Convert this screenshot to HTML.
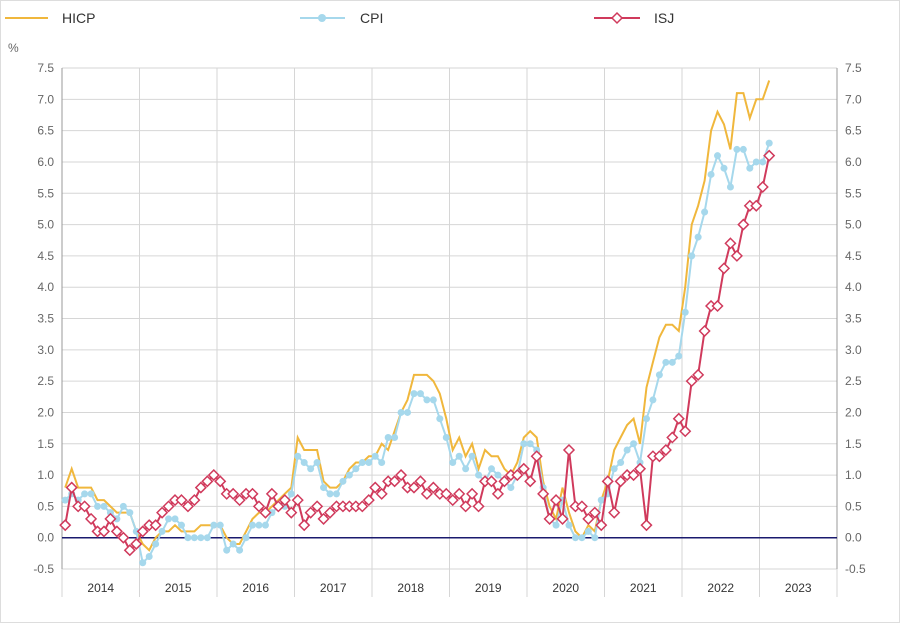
<!DOCTYPE html><html><head><meta charset="utf-8"><style>
body{margin:0;background:#fff;}
svg{display:block;font-family:"Liberation Sans",sans-serif;}
</style></head><body>
<svg id="s" width="900" height="623" xmlns="http://www.w3.org/2000/svg"></svg>
<script>
const cpi=[0.6,0.7,0.6,0.7,0.7,0.5,0.5,0.4,0.3,0.5,0.4,0.1,
-0.4,-0.3,-0.1,0.1,0.3,0.3,0.2,0.0,0.0,0.0,0.0,0.2,
0.2,-0.2,-0.1,-0.2,0.0,0.2,0.2,0.2,0.4,0.5,0.5,0.7,
1.3,1.2,1.1,1.2,0.8,0.7,0.7,0.9,1.0,1.1,1.2,1.2,
1.3,1.2,1.6,1.6,2.0,2.0,2.3,2.3,2.2,2.2,1.9,1.6,
1.2,1.3,1.1,1.3,1.0,0.9,1.1,1.0,0.9,0.8,1.0,1.5,
1.5,1.4,0.8,0.3,0.2,0.6,0.2,0.0,0.0,0.1,0.0,0.6,
0.7,1.1,1.2,1.4,1.5,1.2,1.9,2.2,2.6,2.8,2.8,2.9,
3.6,4.5,4.8,5.2,5.8,6.1,5.9,5.6,6.2,6.2,5.9,6.0,6.0,6.3];
const hicp=[0.8,1.1,0.8,0.8,0.8,0.6,0.6,0.5,0.4,0.4,0.4,0.1,
-0.1,-0.2,0.0,0.1,0.1,0.2,0.1,0.1,0.1,0.2,0.2,0.2,
0.2,0.0,-0.1,-0.1,0.1,0.3,0.4,0.4,0.5,0.6,0.7,0.8,
1.6,1.4,1.4,1.4,0.9,0.8,0.8,0.9,1.1,1.2,1.2,1.3,
1.3,1.5,1.4,1.7,2.0,2.2,2.6,2.6,2.6,2.5,2.3,1.9,
1.4,1.6,1.3,1.5,1.1,1.4,1.3,1.3,1.1,1.0,1.2,1.6,
1.7,1.6,0.9,0.5,0.3,0.8,0.4,0.1,0.0,0.2,0.1,0.6,
0.9,1.4,1.6,1.8,1.9,1.5,2.4,2.8,3.2,3.4,3.4,3.3,
4.0,5.0,5.3,5.7,6.5,6.8,6.6,6.2,7.1,7.1,6.7,7.0,7.0,7.3];
const isj=[0.2,0.8,0.5,0.5,0.3,0.1,0.1,0.3,0.1,0.0,-0.2,-0.1,
0.1,0.2,0.2,0.4,0.5,0.6,0.6,0.5,0.6,0.8,0.9,1.0,
0.9,0.7,0.7,0.6,0.7,0.7,0.5,0.4,0.7,0.5,0.6,0.4,
0.6,0.2,0.4,0.5,0.3,0.4,0.5,0.5,0.5,0.5,0.5,0.6,
0.8,0.7,0.9,0.9,1.0,0.8,0.8,0.9,0.7,0.8,0.7,0.7,
0.6,0.7,0.5,0.7,0.5,0.9,0.9,0.7,0.9,1.0,1.0,1.1,
0.9,1.3,0.7,0.3,0.6,0.3,1.4,0.5,0.5,0.3,0.4,0.2,
0.9,0.4,0.9,1.0,1.0,1.1,0.2,1.3,1.3,1.4,1.6,1.9,
1.7,2.5,2.6,3.3,3.7,3.7,4.3,4.7,4.5,5.0,5.3,5.3,5.6,6.1];
const L=62,R=837,yt=68,yb=569;
const Y=v=>yt+(7.5-v)*(yb-yt)/8, X=i=>L+(i+0.5)*(R-L)/120;
let h='<rect x="0.5" y="0.5" width="899" height="622" fill="#fff" stroke="#ddd"/>';
for(let k=0;k<=16;k++){const v=7.5-k*0.5,y=Y(v);
h+=`<line x1="${L}" x2="${R}" y1="${y}" y2="${y}" stroke="#d6d6d6"/>`;
h+=`<text x="${L-8}" y="${y+4}" font-size="12" fill="#666" text-anchor="end">${v.toFixed(1)}</text>`;
h+=`<text x="${R+8}" y="${y+4}" font-size="12" fill="#666">${v.toFixed(1)}</text>`;}
for(let k=0;k<=10;k++){const x=L+k*(R-L)/10;
h+=`<line x1="${x}" x2="${x}" y1="${yt}" y2="${k==0||k==10?597:597}" stroke="#d6d6d6"/>`;
if(k<10)h+=`<text x="${x+(R-L)/20}" y="592" font-size="12" fill="#333" text-anchor="middle">${2014+k}</text>`;}
h+=`<line x1="${L}" x2="${L}" y1="${yt}" y2="${yb}" stroke="#999"/><line x1="${R}" x2="${R}" y1="${yt}" y2="${yb}" stroke="#999"/>`;
h+=`<line x1="${L}" x2="${R}" y1="${Y(0)}" y2="${Y(0)}" stroke="#1a1a6e" stroke-width="1.5"/>`;
h+=`<text x="8" y="52" font-size="12" fill="#666">%</text>`;
const pts=a=>a.map((v,i)=>X(i).toFixed(1)+','+Y(v).toFixed(1)).join(' ');
h+=`<polyline points="${pts(hicp)}" fill="none" stroke="#f0b73c" stroke-width="2"/>`;
h+=`<polyline points="${pts(cpi)}" fill="none" stroke="#a6d8ec" stroke-width="2"/>`;
cpi.forEach((v,i)=>h+=`<circle cx="${X(i)}" cy="${Y(v)}" r="3.5" fill="#a6d8ec"/>`);
h+=`<polyline points="${pts(isj)}" fill="none" stroke="#d03a5c" stroke-width="2"/>`;
isj.forEach((v,i)=>{const x=X(i),y=Y(v);h+=`<polygon points="${x},${y-5} ${x+5},${y} ${x},${y+5} ${x-5},${y}" fill="#fff" stroke="#d03a5c" stroke-width="1.5"/>`;});
h+=`<line x1="5" x2="48" y1="18" y2="18" stroke="#f0b73c" stroke-width="2"/><text x="62" y="23" font-size="14" fill="#333">HICP</text>`;
h+=`<line x1="300" x2="345" y1="18" y2="18" stroke="#a6d8ec" stroke-width="2"/><circle cx="322" cy="18" r="4" fill="#a6d8ec"/><text x="360" y="23" font-size="14" fill="#333">CPI</text>`;
h+=`<line x1="594" x2="640" y1="18" y2="18" stroke="#d03a5c" stroke-width="2"/><polygon points="617,13 622,18 617,23 612,18" fill="#fff" stroke="#d03a5c" stroke-width="1.5"/><text x="654" y="23" font-size="14" fill="#333">ISJ</text>`;
document.getElementById('s').innerHTML=h;
</script>
</body></html>
